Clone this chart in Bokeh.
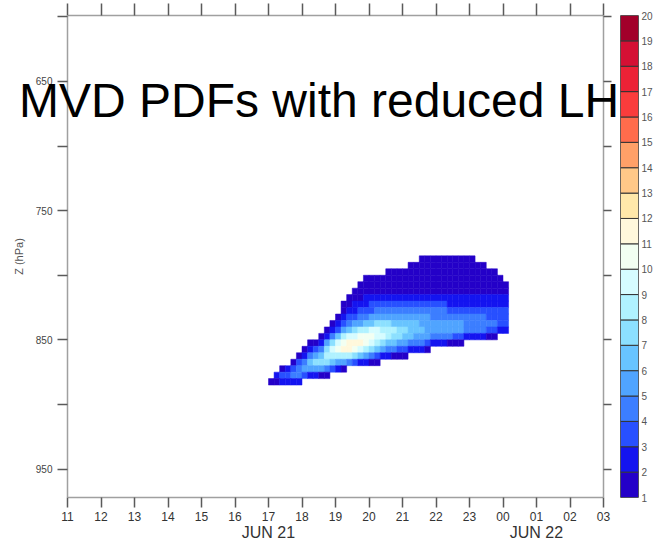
from bokeh.plotting import figure
from bokeh.models import Range1d, LinearAxis, FixedTicker, Label, ColumnDataSource, Grid
from bokeh.layouts import row, column
from bokeh.embed import file_html
from bokeh.resources import INLINE

TITLE = "MVD PDFs with reduced LH"
Y_LABEL = "Z (hPa)"

X_TICKS = [11, 12, 13, 14, 15, 16, 17, 18, 19, 20, 21, 22, 23, 24, 25, 26, 27]
X_TICK_LABELS = ["11", "12", "13", "14", "15", "16", "17", "18", "19", "20",
                 "21", "22", "23", "00", "01", "02", "03"]
DATE_POS = [17, 25]
DATE_LABELS = ["JUN 21", "JUN 22"]
Y_TICKS = [600, 650, 700, 750, 800, 850, 900, 950]
Y_TICK_LABELS = ["", "650", "", "750", "", "850", "", "950"]

LEVELS = [1, 2, 3, 4, 5, 6, 7, 8, 9, 10, 11, 12, 13, 14, 15, 16, 17, 18, 19, 20]
LEVEL_COLORS = ["#2400C8", "#1414F0", "#2850FF", "#3C7EFF", "#50A4FF", "#68C4FF",
                "#8CE0FF", "#B0F2FF", "#D6FCFF", "#F2FFF2", "#FFF8DC", "#FFE8AA",
                "#FFC888", "#FFA068", "#FF6C4C", "#FA3C3C", "#EC2236", "#D41034",
                "#A2002A"]

# PDF field: 10-minute columns from 17:00, 5-hPa rows from 785 hPa
GRID_T0 = 17.0
GRID_DT = 1.0 / 6.0
GRID_P0 = 785.0
GRID_DP = 5.0
# (first column, class of each cell: 1-9, a=10, b=11)
PDF_ROWS = [
    (27, "1111111111"),
    (25, "11111111111111"),
    (21, "11111111111111111111"),
    (17, "1111111111111111111111111"),
    (16, "111111111111111111111111111"),
    (15, "1111111111111111111111111111"),
    (14, "11122222222222222222222222222"),
    (13, "112223333333333333322222222222"),
    (13, "122333444444444444433333333333"),
    (12, "1233445555555555544444444443333"),
    (11, "12345566777666665555555544444433"),
    (10, "123567889988877666555555544443322"),
    (9, "1246899aaa9987766555444433222211"),
    (7, "112579abbba98766554443222111"),
    (6, "123479abba9876544332221"),
    (5, "12456888887654322111"),
    (4, "1346777655432211"),
    (2, "123455554321"),
    (1, "2334432211"),
    (0, "112222"),
]

# ---- build cells
left, right, top, bottom, color = [], [], [], [], []
for k, (j0, s) in enumerate(PDF_ROWS):
    for i, c in enumerate(s):
        if c == ".":
            continue
        v = int(c, 16)
        j = j0 + i
        left.append(GRID_T0 + j * GRID_DT)
        right.append(GRID_T0 + (j + 1) * GRID_DT)
        top.append(GRID_P0 + k * GRID_DP)
        bottom.append(GRID_P0 + (k + 1) * GRID_DP)
        color.append(LEVEL_COLORS[v - 1])
src = ColumnDataSource(dict(left=left, right=right, top=top, bottom=bottom, color=color))

FONT = "Liberation Sans"
AX_COL = "#a0a0a0"
TICK_COL = "#5a5a5a"
FIG_W, FIG_H = 620, 547


def no_grid(fig):
    for g in fig.select(type=Grid):
        g.visible = False


p = figure(width=FIG_W, height=FIG_H, x_range=Range1d(11, 27), y_range=Range1d(972, 599),
           output_backend="svg", toolbar_location=None,
           x_axis_location=None, y_axis_location=None,
           min_border_left=67, min_border_right=17, min_border_top=15, min_border_bottom=50)
p.outline_line_color = None
p.background_fill_alpha = 0
p.border_fill_alpha = 0
no_grid(p)

p.quad(left="left", right="right", top="top", bottom="bottom", source=src,
       fill_color="color", line_color="color", line_width=0.5)


def style_axis(ax, tick_out=10):
    ax.axis_line_color = AX_COL
    ax.axis_line_width = 1.5
    ax.major_tick_line_color = TICK_COL
    ax.major_tick_line_width = 1.5
    ax.major_tick_out = tick_out
    ax.major_tick_in = 0
    ax.minor_tick_line_color = None
    ax.major_label_text_font = FONT


xb = LinearAxis(ticker=FixedTicker(ticks=X_TICKS),
                major_label_overrides={t: l for t, l in zip(X_TICKS, X_TICK_LABELS)})
style_axis(xb, 10)
xb.major_label_text_font_size = "12px"
xb.major_label_text_color = "#333333"
xb.major_label_standoff = 4
p.add_layout(xb, "below")

xd = LinearAxis(ticker=FixedTicker(ticks=DATE_POS),
                major_label_overrides={t: l for t, l in zip(DATE_POS, DATE_LABELS)})
xd.axis_line_color = None
xd.major_tick_line_color = None
xd.minor_tick_line_color = None
xd.major_tick_out = 0
xd.major_label_text_font = FONT
xd.major_label_text_font_size = "16px"
xd.major_label_text_color = "#333333"
xd.major_label_standoff = 0
p.add_layout(xd, "below")

xt = LinearAxis(ticker=FixedTicker(ticks=X_TICKS),
                major_label_overrides={t: "" for t in X_TICKS})
style_axis(xt, 12)
xt.major_label_standoff = 0
p.add_layout(xt, "above")

yl = LinearAxis(ticker=FixedTicker(ticks=Y_TICKS),
                major_label_overrides={t: l for t, l in zip(Y_TICKS, Y_TICK_LABELS)},
                axis_label=Y_LABEL)
style_axis(yl, 10)
yl.major_label_text_font_size = "10px"
yl.major_label_text_color = "#444444"
yl.major_label_standoff = 5
yl.axis_label_text_font = FONT
yl.axis_label_text_font_size = "11px"
yl.axis_label_text_font_style = "normal"
yl.axis_label_text_color = "#555555"
yl.axis_label_standoff = 8
p.add_layout(yl, "left")

yr = LinearAxis(ticker=FixedTicker(ticks=Y_TICKS),
                major_label_overrides={t: "" for t in Y_TICKS})
style_axis(yr, 8)
yr.major_label_standoff = 0
p.add_layout(yr, "right")

# ---- colour bar
cb = figure(width=36, height=FIG_H, x_range=Range1d(0, 1), y_range=Range1d(1, 20),
            output_backend="svg", toolbar_location=None,
            x_axis_location=None, y_axis_location=None,
            min_border_left=0, min_border_right=18, min_border_top=15, min_border_bottom=50)
cb.outline_line_color = "#888888"
cb.background_fill_alpha = 0
cb.border_fill_alpha = 0
no_grid(cb)
cb.quad(left=0, right=1, bottom=LEVELS[:-1], top=LEVELS[1:],
        fill_color=LEVEL_COLORS, line_color="#333333", line_width=1)
cax = LinearAxis(ticker=FixedTicker(ticks=LEVELS))
cax.axis_line_color = None
cax.major_tick_line_color = None
cax.minor_tick_line_color = None
cax.major_tick_out = 0
cax.major_tick_in = 0
cax.major_label_text_font = FONT
cax.major_label_text_font_size = "10px"
cax.major_label_text_color = "#555555"
cax.major_label_standoff = 3
cb.add_layout(cax, "right")

# ---- title overlay over the whole chart (it crosses the plot frame, as in the original)
OV_W = FIG_W + 36
tf = figure(width=OV_W, height=FIG_H, x_range=Range1d(0, OV_W), y_range=Range1d(FIG_H, 0),
            output_backend="svg", toolbar_location=None,
            x_axis_location=None, y_axis_location=None,
            min_border=0, margin=(-FIG_H, 0, 0, 0))
tf.outline_line_color = None
tf.background_fill_alpha = 0
tf.border_fill_alpha = 0
no_grid(tf)
tf.add_layout(Label(x=18.5, y=100, text=TITLE, text_font=FONT, text_font_size="48px",
                    text_color="black", text_baseline="alphabetic", text_align="left"))

layout = column(row(p, cb), tf)
open("out.html", "w").write(file_html(layout, INLINE))
